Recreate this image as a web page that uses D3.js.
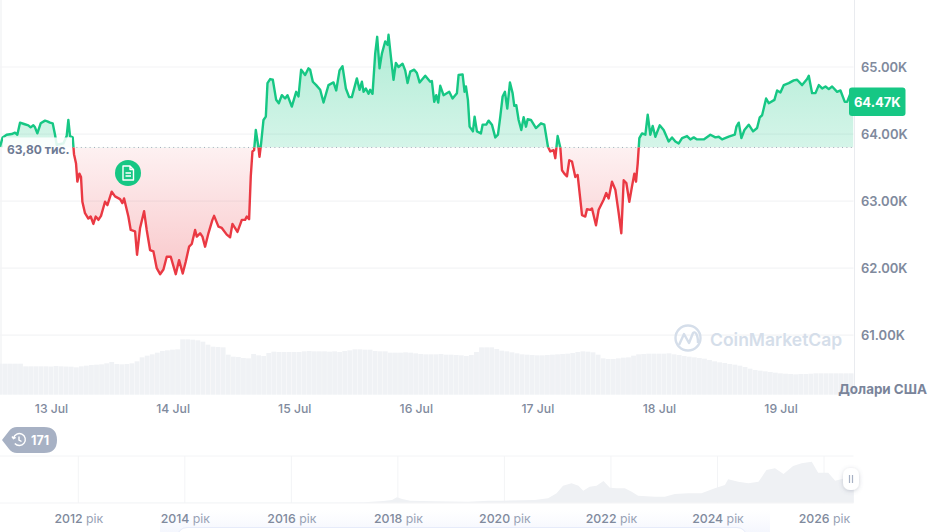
<!DOCTYPE html>
<html>
<head>
<meta charset="utf-8">
<script src="https://cdn.jsdelivr.net/npm/d3@7"></script>
<style>
  html, body { margin: 0; padding: 0; background: #fff; }
  svg { display: block; font-family: Inter, "Noto Sans", sans-serif; }
</style>
</head>
<body>
<script>
var width = 936,
height = 532;

const green = "#16c784", red = "#ea3943", grey = "#808a9d", grid = "#f3f4f6";

// hours since 13 Jul 00:00, and price in thousands of USD
const hours = [
  -10.07,-9.55,-8.76,-7.77,-7.11,-6.65,-6.12,-5.33,-4.48,-4.02,-3.49,-3.16,
  -2.70,-2.04,-1.18,-0.72,-0.20,0.33,0.79,1.12,2.44,3.09,3.42,3.75,
  4.28,4.54,4.94,5.20,5.60,5.92,6.19,6.71,7.37,7.83,8.36,8.82,
  9.35,9.87,10.66,11.13,11.98,12.64,13.63,14.09,14.42,15.27,15.73,16.59,
  16.98,17.58,18.37,18.89,19.55,20.21,20.87,21.53,22.19,22.84,23.63,24.62,
  25.28,26.00,26.60,27.25,27.78,28.44,28.77,29.43,29.89,30.41,31.07,31.86,
  32.19,33.05,33.71,34.69,35.35,35.81,36.80,37.66,38.31,38.64,39.10,39.43,
  39.76,40.09,40.42,40.95,41.15,41.47,41.94,42.40,42.73,43.25,43.78,44.44,
  44.96,45.56,46.21,46.68,47.53,48.39,48.85,49.37,50.16,50.82,51.15,51.68,
  52.34,53.13,53.79,54.77,55.76,56.29,56.95,57.54,58.20,58.85,59.38,60.37,
  60.90,61.36,61.69,62.15,62.67,63.00,63.46,63.99,64.38,64.85,65.31,65.96,
  66.43,66.62,67.09,67.61,68.07,68.60,69.39,69.91,70.38,70.90,71.69,72.22,
  72.75,73.87,74.85,75.18,75.64,76.04,76.43,76.83,77.48,78.60,79.26,80.12,
  80.45,81.24,81.63,81.90,82.29,82.62,83.28,83.61,84.07,84.86,85.19,85.91,
  86.37,87.03,87.69,88.22,88.68,89.14,89.60,90.06,90.59,91.11,91.44,91.84,
  92.30,92.83,93.29,93.75,94.08,94.73,95.72,96.71,97.37,98.09,98.55,99.21,
  99.54,100.00,100.53,100.86,101.32,101.84,102.30,102.83,103.49,103.95,104.81,105.46,
  105.80,106.45,106.78,107.57,108.10,109.08,109.60,110.07,110.73,111.39,112.05,112.57,
  113.04,113.56,114.15,114.68,115.14,115.47,115.80,116.13,116.66,117.32,117.78,118.30,
  118.76,119.29,120.15,120.93,121.92,122.58,123.24,123.90,124.56,125.54,126.20,126.86,
  127.52,128.84,130.15,131.14,131.80,132.46,133.77,134.96,135.29,135.75,136.27,136.87,
  137.72,138.58,139.37,139.90,140.36,141.15,141.67,142.79,143.32,143.98,144.64,145.62,
  146.61,147.27,148.26,149.24,149.57,150.23,150.89,151.55,152.21,152.87,153.52,154.18,
  155.17,155.83,156.68,157.14,157.93,158.40
];
const prices = [
  63.81,63.95,63.99,64.00,64.02,63.99,64.17,64.15,64.13,64.10,64.13,64.10,
  64.01,64.16,64.20,64.19,64.17,64.16,63.99,63.84,63.86,63.97,64.21,63.97,
  63.95,63.70,63.56,63.29,63.41,63.36,62.99,62.82,62.74,62.77,62.66,62.77,
  62.72,62.78,62.99,62.94,63.14,63.07,63.03,62.97,63.04,62.77,62.57,62.55,
  62.20,62.60,62.85,62.57,62.27,62.25,62.00,61.91,61.98,62.17,62.17,61.91,
  62.12,61.92,62.10,62.32,62.36,62.57,62.47,62.52,62.47,62.32,62.52,62.72,
  62.78,62.62,62.60,62.50,62.46,62.66,62.54,62.72,62.72,62.77,62.73,63.37,
  63.74,63.76,64.06,63.80,63.66,63.86,64.21,64.26,64.76,64.82,64.81,64.51,
  64.46,64.58,64.53,64.58,64.41,64.63,64.56,64.96,64.88,64.98,64.96,64.78,
  64.73,64.66,64.47,64.73,64.77,64.65,64.95,65.01,64.68,64.55,64.55,64.83,
  64.66,64.78,64.63,64.68,64.60,64.66,64.60,65.20,65.45,64.98,65.20,65.38,
  65.33,65.48,65.15,64.81,65.06,65.00,65.05,64.95,64.76,64.93,64.96,64.91,
  64.77,64.87,64.78,64.79,64.48,64.58,64.47,64.72,64.58,64.63,64.53,64.61,
  64.88,64.89,64.63,64.71,64.51,64.11,64.04,64.26,64.04,64.01,64.14,64.14,
  64.20,64.14,63.95,63.99,64.26,64.56,64.63,64.38,64.77,64.61,64.42,64.43,
  64.21,64.06,64.25,64.11,64.22,64.21,64.09,64.16,64.14,63.81,63.74,63.76,
  63.64,63.97,63.80,63.46,63.41,63.37,63.61,63.59,63.36,63.39,62.79,62.77,
  62.88,62.87,62.89,62.64,62.87,63.02,63.12,63.04,63.29,63.17,62.82,62.52,
  63.31,63.27,62.99,63.22,63.41,63.29,63.56,63.94,64.01,63.99,64.29,63.99,
  64.12,63.96,64.13,64.06,63.89,63.95,63.89,63.86,63.94,63.97,63.92,63.95,
  63.92,63.92,63.99,63.95,63.96,63.92,63.96,63.99,64.11,64.17,63.94,64.06,
  64.14,64.04,64.09,64.25,64.28,64.53,64.46,64.51,64.65,64.62,64.73,64.76,
  64.80,64.81,64.73,64.82,64.87,64.61,64.61,64.73,64.68,64.71,64.67,64.71,
  64.63,64.65,64.48,64.48,64.63,64.65
];
const baseline = 63.80;
const lastPrice = "64.47K";
const baselineLabel = "63,80 тис.";

// one volume bar per hour, first bar at hour -10, billions of USD
const firstVolumeHour = -10;
const volumes = [
  18.6,18.6,18.6,18.6,18.6,17.0,17.0,17.0,17.0,17.0,16.9,17.2,17.0,16.9,16.8,16.4,
  17.0,17.4,17.8,18.0,18.2,18.8,19.6,18.4,18.2,18.4,18.8,20.0,22.4,23.4,24.2,25.2,
  26.2,26.6,27.0,27.2,33.2,33.2,33.0,32.6,31.8,30.0,28.8,28.6,28.4,24.0,22.8,22.6,
  22.0,21.8,24.4,23.6,23.2,25.0,25.8,25.6,25.6,25.6,25.6,25.6,26.0,26.2,26.0,26.0,
  26.0,25.8,26.0,25.6,26.2,26.6,27.2,27.2,27.0,27.0,26.2,26.0,26.0,25.2,25.2,25.2,
  25.4,25.2,24.8,24.4,24.2,24.2,24.2,24.4,24.0,24.0,23.8,23.6,23.2,23.8,25.6,28.4,
  28.4,28.4,27.4,26.4,26.0,25.4,24.8,24.2,24.0,23.8,23.6,23.6,23.8,24.0,24.2,24.4,
  24.6,25.0,25.6,26.0,25.8,25.4,24.0,21.8,21.4,21.4,21.8,22.2,22.4,23.4,24.2,24.4,
  24.6,24.6,24.6,24.6,24.8,24.2,23.8,23.2,22.8,22.4,22.0,21.6,20.8,20.0,19.4,19.0,
  18.4,18.0,17.4,16.6,15.6,14.8,14.4,14.0,13.6,13.2,12.8,12.6,12.4,12.2,12.4,12.4,
  12.6,12.8,12.8,12.8,12.8,12.8,12.8,12.8,12.8
];

// navigator, whole price history
const historyYears = [
  2010.53,2013.0,2016.8,2017.36,2017.73,2017.89,2017.98,2018.08,2018.23,2018.67,2019.32,2019.70,
  2019.95,2020.57,2020.82,2020.98,2021.10,2021.26,2021.39,2021.48,2021.60,2021.73,2021.86,2021.98,
  2022.11,2022.26,2022.39,2022.51,2022.83,2023.01,2023.20,2023.45,2023.70,2023.95,2024.14,2024.20,
  2024.39,2024.58,2024.77,2024.92,2025.08,2025.24,2025.42,2025.58,2025.77,2025.89,2026.08,2026.21,
  2026.39,2026.56
];
const historyPrices = [
  0,0.3,0.6,1,5,8,16,11,6,4,3,6,
  6,8,13,28,51,58,51,36,48,51,65,45,
  43,43,33,21,18,18,26,28,28,43,53,70,
  63,58,63,98,103,86,110,118,123,90,90,66,
  73,78
];

const priceTicks = [61, 62, 63, 64, 65];
const dayTicks = [0, 24, 48, 72, 96, 120, 144];
const dayLabels = ["13 Jul", "14 Jul", "15 Jul", "16 Jul", "17 Jul", "18 Jul", "19 Jul"];
const yearTicks = [2012, 2014, 2016, 2018, 2020, 2022, 2024, 2026];

const plotRight = 853.5;

var svg = d3.select("body").append("svg")
  .attr("width", width)
  .attr("height", height)
  .attr("viewBox", [0, 0, width, height]);

let x = d3.scaleLinear().domain([-10.07, 158.4]).range([0, plotRight]);
let y = d3.scaleLinear().domain([61, 65]).range([335.2, 67]);
let yVol = d3.scaleLinear().domain([0, 40]).range([394.7, 328]);
let xYear = d3.scaleLinear().domain([2012, 2026]).range([78.3, 824]);
let yHist = d3.scaleLinear().domain([0, 140]).range([502.7, 456]);

let series = d3.zip(hours, prices);
let baseY = y(baseline);

// gradients and clips
let defs = svg.append("defs");
let gradGreen = defs.append("linearGradient").attr("id", "fillGreen")
  .attr("gradientUnits", "userSpaceOnUse")
  .attr("x1", 0).attr("x2", 0).attr("y1", y(65.5)).attr("y2", baseY);
gradGreen.append("stop").attr("offset", 0).attr("stop-color", green).attr("stop-opacity", 0.34);
gradGreen.append("stop").attr("offset", 1).attr("stop-color", green).attr("stop-opacity", 0.18);
let gradRed = defs.append("linearGradient").attr("id", "fillRed")
  .attr("gradientUnits", "userSpaceOnUse")
  .attr("x1", 0).attr("x2", 0).attr("y1", baseY).attr("y2", y(61.9));
gradRed.append("stop").attr("offset", 0).attr("stop-color", red).attr("stop-opacity", 0.07);
gradRed.append("stop").attr("offset", 1).attr("stop-color", red).attr("stop-opacity", 0.28);

defs.append("clipPath").attr("id", "above").append("rect")
  .attr("x", 0).attr("y", 0).attr("width", plotRight).attr("height", baseY);
defs.append("clipPath").attr("id", "below").append("rect")
  .attr("x", 0).attr("y", baseY).attr("width", plotRight).attr("height", 394 - baseY);

let handleShadow = defs.append("filter").attr("id", "soft")
  .attr("x", "-50%").attr("y", "-50%").attr("width", "200%").attr("height", "200%");
handleShadow.append("feDropShadow").attr("dx", 0).attr("dy", 1).attr("stdDeviation", 2)
  .attr("flood-color", "#58667e").attr("flood-opacity", 0.3);
let panelGrad = defs.append("linearGradient").attr("id", "panel")
  .attr("x1", 0).attr("x2", 0).attr("y1", 0).attr("y2", 1);
panelGrad.append("stop").attr("offset", 0).attr("stop-color", "#f2f5fe").attr("stop-opacity", 0);
panelGrad.append("stop").attr("offset", 1).attr("stop-color", "#f0f3fd").attr("stop-opacity", 1);

// frame lines
svg.append("line").attr("x1", 1).attr("x2", 1).attr("y1", 0).attr("y2", 394)
  .attr("stroke", grid).attr("stroke-width", 1.5);
svg.append("line").attr("x1", 854.5).attr("x2", 854.5).attr("y1", 0).attr("y2", 394)
  .attr("stroke", "#e9ebef");

// grid
svg.append("g").selectAll("line")
  .data(priceTicks)
  .join("line")
    .attr("x1", 0).attr("x2", plotRight)
    .attr("y1", d => y(d)).attr("y2", d => y(d))
    .attr("stroke", grid).attr("stroke-width", 1.2);

// volume
svg.append("g").selectAll("rect")
  .data(volumes)
  .join("rect")
    .attr("x", (d, i) => x(firstVolumeHour + i) - 2.5)
    .attr("width", (d, i) => Math.min(4.8, plotRight - (x(firstVolumeHour + i) - 2.5)))
    .attr("y", d => yVol(d))
    .attr("height", d => yVol(0) - yVol(d))
    .attr("fill", "#f0f2f5");

// price areas and line, split at the baseline
let area = d3.area().x(d => x(d[0])).y0(baseY).y1(d => y(d[1]));
let line = d3.line().x(d => x(d[0])).y(d => y(d[1]));

svg.append("path").datum(series).attr("d", area)
  .attr("fill", "url(#fillGreen)").attr("clip-path", "url(#above)");
svg.append("path").datum(series).attr("d", area)
  .attr("fill", "url(#fillRed)").attr("clip-path", "url(#below)");

svg.append("line").attr("x1", 72).attr("x2", plotRight).attr("y1", baseY).attr("y2", baseY)
  .attr("stroke", "#a3abba").attr("stroke-width", 1).attr("stroke-dasharray", "1 3.4");

svg.append("path").datum(series).attr("d", line)
  .attr("fill", "none").attr("stroke", green).attr("stroke-width", 2.4)
  .attr("stroke-linejoin", "round").attr("clip-path", "url(#above)");
svg.append("path").datum(series).attr("d", line)
  .attr("fill", "none").attr("stroke", red).attr("stroke-width", 2.4)
  .attr("stroke-linejoin", "round").attr("clip-path", "url(#below)");

// baseline label, its white box fades the line behind it
svg.append("rect").attr("x", 3).attr("y", baseY - 10).attr("width", 69).attr("height", 20)
  .attr("fill", "#fff").attr("fill-opacity", 0.86);
svg.append("text").attr("x", 7).attr("y", baseY + 6.5)
  .attr("font-size", 12).attr("font-weight", 700).attr("fill", "#6d7a93")
  .text(baselineLabel);

// note marker
let note = svg.append("g").attr("transform", "translate(128,173)");
note.append("circle").attr("r", 13).attr("fill", green);
note.append("path")
  .attr("d", "M-5,-7 H2 L5.5,-3.5 V7 H-5 Z M2,-7 V-3.5 H5.5 M-2.5,0 H3 M-2.5,3 H3")
  .attr("fill", "none").attr("stroke", "#fff").attr("stroke-width", 1.4)
  .attr("stroke-linejoin", "round");

// right price axis
let axisY = svg.append("g")
  .attr("transform", "translate(861,0)")
  .call(d3.axisRight(y).tickValues(priceTicks).tickSize(0).tickPadding(0)
    .tickFormat(d => d.toFixed(2) + "K"));
axisY.select(".domain").remove();
axisY.selectAll("text")
  .attr("font-family", "Inter").attr("font-size", 13).attr("font-weight", 600)
  .attr("fill", grey).attr("dy", "0.35em");

// current price tag
svg.append("rect").attr("x", 849).attr("y", 87.5).attr("width", 56.5).attr("height", 28.5)
  .attr("rx", 3).attr("fill", green);
svg.append("text").attr("x", 877.3).attr("y", 106.5).attr("text-anchor", "middle")
  .attr("font-size", 13).attr("font-weight", 700).attr("fill", "#fff").text(lastPrice);

// day axis
let axisX = svg.append("g")
  .attr("transform", "translate(0,402)")
  .call(d3.axisBottom(x).tickValues(dayTicks).tickSize(0).tickPadding(0)
    .tickFormat((d, i) => dayLabels[i]));
axisX.select(".domain").remove();
axisX.selectAll("text")
  .attr("font-family", "Inter").attr("font-size", 12.2).attr("font-weight", 500)
  .attr("fill", grey).attr("dy", "0.9em");

svg.append("text").attr("x", 927).attr("y", 394).attr("text-anchor", "end")
  .attr("font-size", 13.4).attr("font-weight", 700).attr("fill", "#7a849a")
  .text("Долари США");

// watermark
let mark = svg.append("g").attr("fill", "none").attr("stroke", "#d5deea");
mark.append("circle").attr("cx", 688).attr("cy", 338).attr("r", 12.5).attr("stroke-width", 2.4);
mark.append("path").attr("d", "M679,345 L684,334 L689,343 L693,333 C695,331 698,334 698,343")
  .attr("stroke-width", 2.4).attr("stroke-linejoin", "round");
svg.append("text").attr("x", 710).attr("y", 345.5)
  .attr("font-size", 17.5).attr("font-weight", 600).attr("fill", "#d5deea")
  .text("CoinMarketCap");

// history badge
svg.append("path")
  .attr("d", "M2,440 L9,431 Q12,427 17,427 H44 Q57,427 57,440 Q57,453 44,453 H17 Q12,453 9,449 Z")
  .attr("fill", "#a7b1c4");
let clock = svg.append("g").attr("transform", "translate(19,439.5)")
  .attr("fill", "none").attr("stroke", "#fff").attr("stroke-width", 1.4);
clock.append("path").attr("d", "M-5.5,-1.5 A6,6 0 1 1 -4.2,4 M-7,-3 L-5.5,-0.8 L-3.2,-2 M0,-3 V0.5 L2.5,2");
svg.append("text").attr("x", 31).attr("y", 444.5)
  .attr("font-size", 12.5).attr("font-weight", 700).attr("fill", "#fff").text("171");

// navigator
svg.append("rect").attr("x", 160).attr("y", 510).attr("width", 610).attr("height", 22)
  .attr("fill", "url(#panel)").attr("fill-opacity", 0.7);
svg.append("rect").attr("x", 177).attr("y", 527.5).attr("width", 570).attr("height", 20).attr("rx", 10)
  .attr("fill", "#fff").attr("stroke", "#e6ebfa");

svg.append("line").attr("x1", 0).attr("x2", plotRight).attr("y1", 456).attr("y2", 456)
  .attr("stroke", grid);
svg.append("line").attr("x1", 0).attr("x2", plotRight).attr("y1", 503).attr("y2", 503)
  .attr("stroke", grid);
svg.append("g").selectAll("line")
  .data(yearTicks)
  .join("line")
    .attr("x1", d => xYear(d)).attr("x2", d => xYear(d))
    .attr("y1", 456).attr("y2", 503)
    .attr("stroke", grid);

let historyArea = d3.area()
  .x(d => xYear(d[0])).y0(yHist(0)).y1(d => yHist(d[1]));
svg.append("path").datum(d3.zip(historyYears, historyPrices)).attr("d", historyArea)
  .attr("fill", "#eff1f4");

let axisYear = svg.append("g")
  .attr("transform", "translate(0,512)")
  .call(d3.axisBottom(xYear).tickValues(yearTicks).tickSize(0).tickPadding(0)
    .tickFormat(""));
axisYear.select(".domain").remove();
let yearText = axisYear.selectAll("text")
  .attr("font-family", "Inter").attr("font-size", 12.3).attr("dy", "0.9em");
yearText.append("tspan").attr("font-weight", 500).attr("fill", grey).text(d => d);
yearText.append("tspan").attr("fill", "#98a2b5").text(" рік");

// navigator handle
svg.append("rect").attr("x", 843).attr("y", 468).attr("width", 16).attr("height", 22).attr("rx", 7)
  .attr("fill", "#fff").attr("filter", "url(#soft)");
svg.append("path").attr("d", "M849.5,475 V483 M852.5,475 V483")
  .attr("stroke", "#a7b1c4").attr("stroke-width", 1.2);
</script>
</body>
</html>
